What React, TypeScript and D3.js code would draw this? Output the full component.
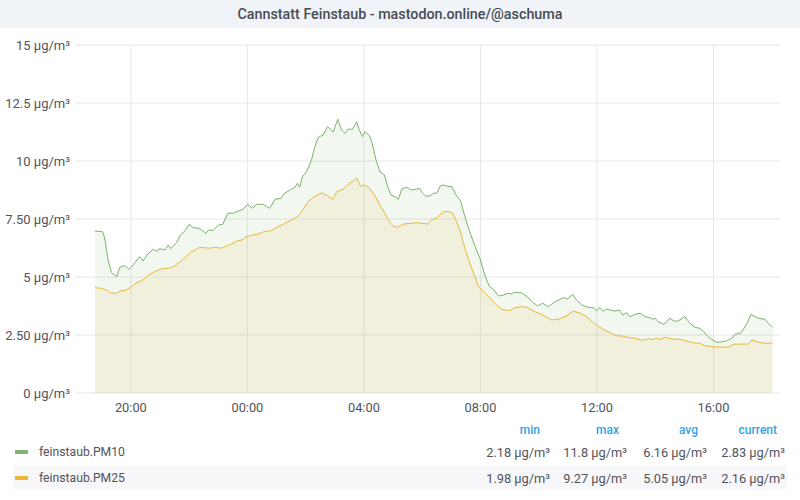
import React from "react";
import * as d3 from "d3";

const title = "Cannstatt Feinstaub - mastodon.online/@aschuma";

const yTickValues = [0, 2.5, 5, 7.5, 10, 12.5, 15];
const yTickLabels = ["0 μg/m³", "2.50 μg/m³", "5 μg/m³", "7.50 μg/m³", "10 μg/m³", "12.5 μg/m³", "15 μg/m³"];
const xTickHours = [-4, 0, 4, 8, 12, 16];
// axis range in minutes relative to midnight
const xDomainMinutes = [-353, 1097];

// PM10: minutes relative to midnight, µg/m³
const pm10Minutes = [-314, -298, -294, -287, -280, -269, -263, -252, -244, -235, -222, -215, -204, -194, -187, -180, -170, -163, -158, -146, -138, -129, -120, -112, -101, -94, -86, -79, -71, -60, -51, -40, -29, -19, -9, 0, 11, 19, 33, 40, 46, 57, 69, 77, 88, 98, 103, 108, 113, 122, 132, 139, 146, 156, 165, 177, 186, 194, 201, 208, 216, 225, 230, 237, 242, 252, 257, 265, 273, 282, 289, 296, 304, 311, 318, 328, 338, 349, 355, 360, 367, 376, 383, 390, 397, 403, 410, 421, 430, 439, 448, 458, 469, 479, 489, 498, 508, 517, 527, 536, 543, 551, 565, 576, 589, 598, 608, 620, 634, 651, 659, 670, 678, 689, 704, 712, 719, 726, 733, 740, 747, 757, 766, 773, 781, 788, 798, 809, 819, 828, 835, 840, 846, 858, 870, 879, 887, 901, 912, 922, 932, 939, 949, 956, 967, 977, 987, 998, 1004, 1015, 1021, 1030, 1037, 1043, 1052, 1066, 1073, 1082];
const pm10Values = [6.98, 6.95, 6.68, 5.73, 5.19, 5.01, 5.42, 5.49, 5.33, 5.52, 5.88, 5.69, 6.02, 6.19, 6.12, 6.22, 6.16, 6.38, 6.22, 6.48, 6.81, 6.98, 7.27, 7.13, 7.10, 7.03, 6.88, 7.03, 7.00, 7.24, 7.27, 7.75, 7.75, 7.84, 7.92, 8.13, 7.96, 8.13, 8.13, 8.03, 7.96, 8.35, 8.39, 8.61, 8.75, 8.87, 9.04, 8.87, 9.32, 9.54, 10.04, 10.62, 11.02, 11.12, 11.48, 11.26, 11.80, 11.34, 11.19, 11.38, 11.36, 11.69, 11.36, 11.05, 11.26, 11.08, 10.76, 10.04, 9.54, 9.40, 8.89, 8.53, 8.46, 8.35, 8.79, 8.87, 8.75, 8.79, 8.82, 8.63, 8.49, 8.49, 8.61, 8.61, 8.92, 8.97, 8.92, 8.89, 8.53, 8.29, 7.60, 6.95, 6.31, 5.80, 5.09, 4.61, 4.44, 4.18, 4.22, 4.30, 4.27, 4.34, 4.32, 4.15, 3.89, 3.75, 3.87, 3.72, 3.94, 4.11, 4.05, 4.25, 4.01, 3.79, 3.68, 3.69, 3.55, 3.68, 3.53, 3.61, 3.58, 3.53, 3.58, 3.36, 3.46, 3.29, 3.39, 3.44, 3.29, 3.25, 3.18, 3.22, 3.07, 2.96, 3.22, 3.10, 3.10, 3.29, 3.00, 2.83, 2.79, 2.67, 2.43, 2.31, 2.18, 2.21, 2.25, 2.36, 2.53, 2.57, 2.72, 3.03, 3.39, 3.32, 3.22, 3.18, 3.00, 2.83];

// PM2.5
const pm25Minutes = [-314, -300, -290, -280, -271, -259, -249, -239, -228, -215, -204, -194, -184, -173, -163, -153, -143, -129, -118, -108, -99, -88, -77, -67, -53, -43, -33, -22, -12, -2, 12, 22, 33, 43, 50, 63, 77, 91, 105, 115, 125, 138, 153, 163, 176, 184, 197, 211, 218, 225, 233, 242, 252, 263, 273, 283, 294, 300, 309, 321, 335, 349, 362, 372, 379, 390, 400, 407, 414, 423, 431, 439, 448, 458, 469, 475, 486, 500, 513, 524, 534, 543, 551, 565, 576, 592, 606, 627, 640, 658, 671, 685, 699, 716, 733, 747, 759, 771, 784, 798, 812, 826, 836, 843, 850, 860, 874, 891, 905, 918, 932, 942, 956, 973, 990, 1001, 1018, 1032, 1039, 1045, 1056, 1070, 1082];
const pm25Values = [4.54, 4.51, 4.44, 4.30, 4.30, 4.41, 4.44, 4.58, 4.75, 4.87, 5.09, 5.19, 5.30, 5.37, 5.37, 5.44, 5.59, 5.81, 6.06, 6.16, 6.28, 6.26, 6.24, 6.28, 6.24, 6.34, 6.42, 6.55, 6.59, 6.74, 6.81, 6.85, 6.95, 6.98, 7.00, 7.17, 7.31, 7.46, 7.63, 7.92, 8.25, 8.46, 8.63, 8.53, 8.35, 8.68, 8.78, 9.06, 9.14, 9.27, 8.92, 8.97, 8.82, 8.49, 8.10, 7.75, 7.34, 7.20, 7.13, 7.28, 7.31, 7.34, 7.31, 7.28, 7.46, 7.53, 7.75, 7.82, 7.82, 7.75, 7.38, 6.95, 6.24, 5.59, 5.01, 4.61, 4.37, 4.08, 3.79, 3.61, 3.55, 3.58, 3.68, 3.72, 3.69, 3.50, 3.39, 3.15, 3.18, 3.33, 3.53, 3.44, 3.29, 2.97, 2.74, 2.60, 2.47, 2.46, 2.39, 2.36, 2.28, 2.33, 2.31, 2.36, 2.31, 2.40, 2.33, 2.31, 2.24, 2.17, 2.14, 2.04, 2.00, 1.98, 1.98, 2.10, 2.11, 2.11, 2.28, 2.25, 2.17, 2.14, 2.16];

const seriesNames = ["feinstaub.PM10", "feinstaub.PM25"];
const seriesColors = ["#7eb26d", "#eab839"];
const legendHeaders = ["min", "max", "avg", "current"];
const pm10Stats = ["2.18 μg/m³", "11.8 μg/m³", "6.16 μg/m³", "2.83 μg/m³"];
const pm25Stats = ["1.98 μg/m³", "9.27 μg/m³", "5.05 μg/m³", "2.16 μg/m³"];

const midnight = new Date(2023, 0, 2, 0, 0, 0);
const toDate = (m: number) => new Date(midnight.getTime() + m * 60000);

export default function App() {
  const W = 800;
  const H = 500;
  const left = 76;
  const right = 780;
  const top = 45;
  const bottom = 393;
  const font = "Roboto, 'Noto Sans', sans-serif";
  const textColor = "#52545c";

  const x = d3.scaleTime().domain(xDomainMinutes.map(toDate)).range([left, right]);
  const y = d3.scaleLinear().domain([0, 15]).range([bottom, top]);

  const series = [
    { name: seriesNames[0], color: seriesColors[0], data: pm10Minutes.map((m, i) => ({ t: toDate(m), v: pm10Values[i] })), stats: pm10Stats },
    { name: seriesNames[1], color: seriesColors[1], data: pm25Minutes.map((m, i) => ({ t: toDate(m), v: pm25Values[i] })), stats: pm25Stats },
  ];

  const line = d3.line<{ t: Date; v: number }>().x((d) => x(d.t)).y((d) => y(d.v));
  const area = d3.area<{ t: Date; v: number }>().x((d) => x(d.t)).y0(y(0)).y1((d) => y(d.v));
  const fmt = d3.timeFormat("%H:%M");
  const xTicks = xTickHours.map((h) => toDate(h * 60));

  const colRight = [540, 619, 698, 777];
  const valRight = [550, 627, 707, 785];
  const rowY = [452, 478];

  return (
    <svg width={W} height={H} style={{ position: "absolute", left: 0, top: 0, fontFamily: font }}>
      <rect x={0} y={0} width={W} height={H} fill="#ffffff" />
      <rect x={0} y={0} width={W} height={28} fill="#f0f3f8" />
      <text x={W / 2} y={14} textAnchor="middle" dominantBaseline="central" fontSize={14.3} fontWeight={500} fill="#464c54">
        {title}
      </text>

      {yTickValues.map((v, i) => (
        <g key={"y" + i}>
          <line x1={left} x2={right} y1={y(v)} y2={y(v)} stroke="#e6e6e6" strokeWidth={1} />
          <text x={70} y={y(v)} textAnchor="end" dominantBaseline="central" fontSize={13} fill={textColor}>
            {yTickLabels[i]}
          </text>
        </g>
      ))}
      {xTicks.map((t, i) => (
        <g key={"x" + i}>
          <line x1={x(t)} x2={x(t)} y1={top} y2={bottom} stroke="#e6e6e6" strokeWidth={1} />
          <text x={x(t)} y={407} textAnchor="middle" dominantBaseline="central" fontSize={12.8} fill={textColor}>
            {fmt(t)}
          </text>
        </g>
      ))}

      {series.map((s) => (
        <path key={s.name + "a"} d={area(s.data) || ""} fill={s.color} fillOpacity={0.1} />
      ))}
      {series.map((s) => (
        <path key={s.name + "l"} d={line(s.data) || ""} fill="none" stroke={s.color} strokeWidth={1} />
      ))}

      {legendHeaders.map((h, i) => (
        <text key={h} x={colRight[i]} y={430} textAnchor="end" dominantBaseline="central" fontSize={12} fontWeight={500} fill="#33a2e5">
          {h}
        </text>
      ))}
      <rect x={13} y={466} width={774} height={24} fill="#f7f7f9" />
      {series.map((s, r) => (
        <g key={s.name + "leg"}>
          <rect x={15} y={rowY[r] - 2} width={13} height={4} fill={s.color} />
          <text x={39} y={rowY[r]} dominantBaseline="central" fontSize={12.2} fill={textColor}>
            {s.name}
          </text>
          {s.stats.map((v, i) => (
            <text key={i} x={valRight[i]} y={rowY[r]} textAnchor="end" dominantBaseline="central" fontSize={12.8} fill={textColor}>
              {v}
            </text>
          ))}
        </g>
      ))}
    </svg>
  );
}
